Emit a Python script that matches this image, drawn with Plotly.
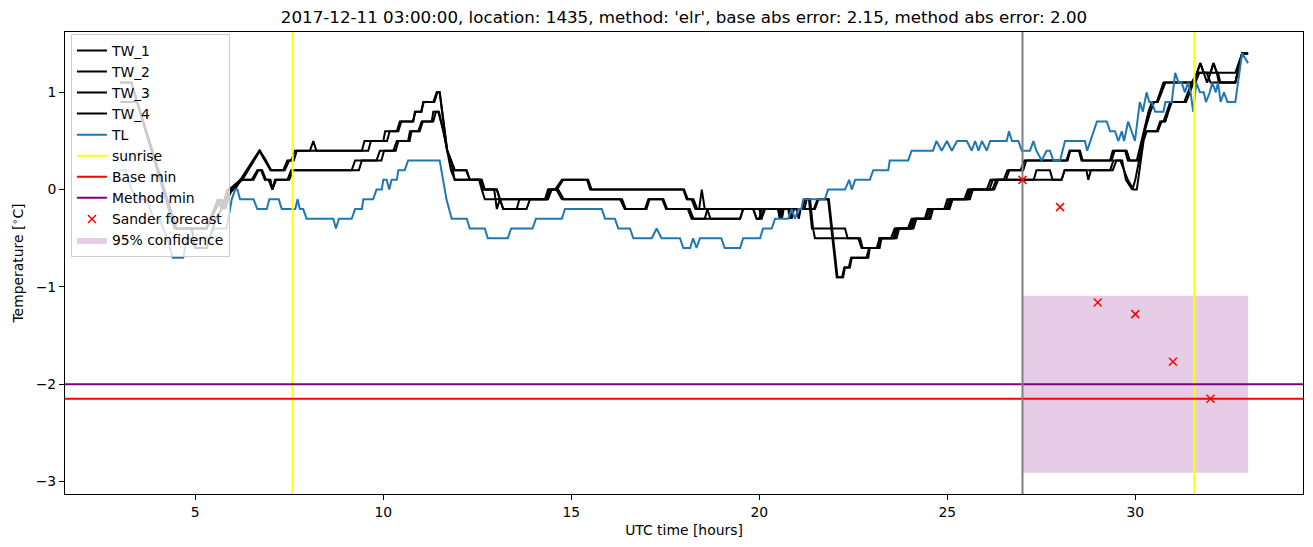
import plotly.graph_objects as go

TITLE = "2017-12-11 03:00:00, location: 1435, method: 'elr', base abs error: 2.15, method abs error: 2.00"

# (hour, temperature) readings
TW_1 = [(3.0,1.1),(3.3,1.1),(4.45,-0.4),(5.3,-0.4),(5.5,-0.2),(5.65,-0.1),(5.75,-0.2),(5.9,0.0),(6.2,0.1),(6.37,0.2),
        (6.54,0.3),(6.7,0.4),(6.85,0.3),(7.0,0.2),(7.34,0.2),(7.45,0.3),(7.55,0.3),(7.65,0.4),(8.05,0.4),(8.14,0.5),
        (8.22,0.4),(9.43,0.4),(9.5,0.5),(10.0,0.5),(10.05,0.6),(10.36,0.6),(10.44,0.7),(10.8,0.7),(10.84,0.8),(11.02,0.8),
        (11.06,0.9),(11.33,0.9),(11.42,1.0),(11.5,1.0),(11.6,0.7),(11.7,0.4),(11.8,0.3),(11.9,0.2),(12.22,0.2),(12.3,0.1),
        (12.57,0.1),(12.66,0.0),(13.02,0.0),(13.1,-0.1),(14.35,-0.1),(14.4,0.0),(14.57,0.0),(14.75,0.1),(15.45,0.1),(15.54,0.0),
        (17.98,0.0),(18.07,-0.1),(18.2,-0.1),(18.3,-0.2),(18.4,-0.2),(18.47,0.0),(18.55,-0.2),(20.0,-0.2),(20.06,-0.3),(20.12,-0.2),
        (20.55,-0.2),(20.6,-0.3),(20.65,-0.2),(21.15,-0.2),(21.21,-0.1),(21.35,-0.1),(21.43,-0.4),(21.48,-0.5),(22.68,-0.5),(22.75,-0.6),
        (23.16,-0.6),(23.2,-0.5),(23.56,-0.5),(23.64,-0.4),(24.0,-0.4),(24.09,-0.3),(24.44,-0.3),(24.53,-0.2),(24.97,-0.2),(25.06,-0.1),
        (25.5,-0.1),(25.59,0.0),(26.12,0.0),(26.21,0.1),(26.56,0.1),(26.65,0.2),(27.02,0.2),(27.1,0.3),(28.17,0.3),(28.25,0.4),
        (28.53,0.4),(28.6,0.3),(29.33,0.3),(29.4,0.4),(29.77,0.4),(29.85,0.3),(30.04,0.3),(30.22,0.6),(30.35,0.8),(30.44,0.9),
        (30.57,0.9),(30.66,1.0),(30.75,1.1),(31.51,1.1),(31.64,1.2),(31.73,1.3),(31.82,1.2),(32.0,1.2),(32.08,1.3),(32.17,1.2),
        (32.66,1.2),(32.84,1.4),(33.0,1.4)]

TW_2 = [(3.0,1.1),(3.3,1.1),(4.5,-0.4),(5.3,-0.4),(5.55,-0.2),(5.7,-0.1),(5.8,-0.2),(5.95,0.0),(6.25,0.1),(6.4,0.2),
        (6.55,0.3),(6.72,0.4),(6.88,0.3),(7.02,0.2),(7.38,0.2),(7.5,0.3),(7.62,0.3),(7.7,0.4),(9.6,0.4),(9.67,0.5),
        (10.1,0.5),(10.17,0.6),(10.4,0.6),(10.48,0.7),(10.78,0.7),(10.86,0.8),(11.0,0.8),(11.08,0.9),(11.36,0.9),(11.44,1.0),
        (11.5,1.0),(11.6,0.7),(11.7,0.4),(11.8,0.3),(11.9,0.1),(12.62,0.1),(12.7,0.0),(12.95,0.0),(13.02,-0.2),(13.1,-0.1),
        (14.3,-0.1),(14.38,0.0),(14.62,0.0),(14.78,0.1),(15.42,0.1),(15.5,0.0),(18.0,0.0),(18.1,-0.1),(18.25,-0.1),(18.35,-0.2),
        (20.5,-0.2),(20.55,-0.3),(20.62,-0.2),(20.8,-0.2),(20.86,-0.3),(20.92,-0.2),(21.2,-0.2),(21.26,-0.1),(21.32,-0.1),(21.4,-0.4),
        (21.97,-0.4),(22.28,-0.4),(22.35,-0.5),(22.63,-0.5),(22.72,-0.6),(23.12,-0.6),(23.2,-0.5),(23.5,-0.5),(23.6,-0.4),(23.95,-0.4),
        (24.05,-0.3),(24.4,-0.3),(24.48,-0.2),(24.92,-0.2),(25.0,-0.1),(25.45,-0.1),(25.55,0.0),(26.05,0.0),(26.15,0.1),(26.5,0.1),
        (26.6,0.2),(26.95,0.2),(27.05,0.3),(28.2,0.3),(28.27,0.4),(28.5,0.4),(28.57,0.3),(29.37,0.3),(29.45,0.4),(29.73,0.4),
        (29.8,0.3),(30.1,0.3),(30.25,0.6),(30.4,0.8),(30.5,0.9),(30.6,0.9),(30.7,1.0),(30.8,1.1),(31.6,1.1),(31.7,1.2),
        (31.9,1.2),(32.0,1.1),(32.66,1.1),(32.84,1.4),(33.0,1.4)]

TW_3 = [(3.0,0.9),(3.45,0.9),(4.5,-0.4),(4.9,-0.4),(5.0,-0.6),(5.3,-0.6),(5.55,-0.3),(5.7,-0.2),(5.8,-0.1),(6.0,0.0),
        (6.2,0.1),(6.5,0.1),(6.65,0.2),(6.75,0.2),(6.85,0.1),(6.95,0.1),(7.05,0.0),(7.15,0.1),(7.45,0.1),(7.55,0.2),
        (9.16,0.2),(9.25,0.3),(9.82,0.3),(9.91,0.4),(10.27,0.4),(10.36,0.5),(10.66,0.5),(10.71,0.6),(10.93,0.6),(11.02,0.7),
        (11.29,0.7),(11.33,0.8),(11.46,0.8),(11.6,0.6),(11.7,0.4),(11.8,0.2),(11.9,0.1),(12.55,0.1),(12.62,0.0),(12.7,-0.1),
        (13.1,-0.1),(13.19,-0.2),(13.55,-0.2),(13.62,-0.1),(14.35,-0.1),(14.45,0.0),(14.65,0.0),(14.8,-0.1),(16.3,-0.1),(16.42,-0.2),
        (16.96,-0.2),(17.05,-0.1),(17.45,-0.1),(17.55,-0.2),(18.1,-0.2),(18.2,-0.3),(19.49,-0.3),(19.57,-0.2),(19.84,-0.2),(19.93,-0.3),
        (20.06,-0.3),(20.15,-0.2),(20.77,-0.2),(20.82,-0.3),(20.9,-0.2),(21.48,-0.2),(21.57,-0.1),(21.83,-0.1),(22.06,-0.9),(22.23,-0.9),
        (22.28,-0.8),(22.41,-0.8),(22.46,-0.7),(22.9,-0.7),(22.94,-0.6),(23.16,-0.6),(23.2,-0.5),(23.6,-0.5),(23.68,-0.4),(24.05,-0.4),
        (24.13,-0.3),(24.5,-0.3),(24.58,-0.2),(25.02,-0.2),(25.1,-0.1),(25.55,-0.1),(25.63,0.0),(26.2,0.0),(26.3,0.1),(27.3,0.1),
        (27.37,0.2),(27.73,0.2),(27.8,0.1),(28.04,0.1),(28.12,0.2),(28.7,0.2),(28.75,0.1),(28.82,0.2),(29.33,0.2),(29.42,0.3),
        (29.6,0.3),(29.7,0.2),(29.8,0.1),(29.95,0.0),(30.04,0.0),(30.22,0.5),(30.3,0.6),(30.57,0.6),(30.66,0.7),(30.75,0.7),
        (30.84,0.8),(30.93,0.9),(31.3,0.9),(31.4,1.0),(31.5,1.1),(31.64,1.2),(31.73,1.3),(31.82,1.2),(31.91,1.1),(32.0,1.2),
        (32.08,1.3),(32.17,1.2),(32.22,1.1),(32.66,1.1),(32.84,1.4),(33.0,1.4)]

TW_4 = [(3.0,0.9),(3.45,0.9),(4.45,-0.4),(5.3,-0.4),(5.5,-0.2),(5.6,-0.1),(5.7,-0.2),(5.85,0.0),(6.05,0.0),(6.22,0.1),
        (6.55,0.1),(6.68,0.2),(6.78,0.2),(6.88,0.1),(7.0,0.1),(7.05,0.0),(7.12,0.1),(7.5,0.1),(7.6,0.2),(9.35,0.2),
        (9.43,0.3),(9.95,0.3),(10.02,0.4),(10.33,0.4),(10.4,0.5),(10.7,0.5),(10.75,0.6),(10.97,0.6),(11.05,0.7),(11.33,0.7),
        (11.4,0.8),(11.48,0.8),(11.6,0.6),(11.7,0.4),(11.8,0.3),(11.9,0.2),(12.2,0.2),(12.3,0.1),(12.6,0.1),(12.68,0.0),
        (13.02,0.0),(13.1,-0.1),(13.19,-0.2),(13.81,-0.2),(13.9,-0.1),(14.38,-0.1),(14.48,0.0),(14.6,0.0),(14.75,-0.1),(16.35,-0.1),
        (16.45,-0.2),(17.0,-0.2),(17.08,-0.1),(17.42,-0.1),(17.52,-0.2),(18.15,-0.2),(18.25,-0.3),(18.55,-0.3),(18.62,-0.2),(18.7,-0.3),
        (19.49,-0.3),(19.57,-0.2),(19.84,-0.2),(19.93,-0.3),(20.0,-0.3),(20.06,-0.2),(20.5,-0.2),(20.55,-0.3),(20.62,-0.2),(20.99,-0.2),
        (21.05,-0.3),(21.1,-0.2),(21.45,-0.2),(21.55,-0.1),(21.85,-0.1),(22.08,-0.9),(22.2,-0.9),(22.26,-0.8),(22.38,-0.8),(22.44,-0.7),
        (22.85,-0.7),(22.92,-0.6),(23.2,-0.6),(23.25,-0.5),(23.65,-0.5),(23.72,-0.4),(24.1,-0.4),(24.18,-0.3),(24.55,-0.3),(24.62,-0.2),
        (25.06,-0.2),(25.14,-0.1),(25.6,-0.1),(25.68,0.0),(26.25,0.0),(26.35,0.1),(28.04,0.1),(28.12,0.2),(29.4,0.2),(29.5,0.3),
        (29.65,0.3),(29.75,0.1),(29.92,0.0),(30.0,0.1),(30.2,0.5),(30.3,0.6),(30.6,0.6),(30.7,0.7),(30.8,0.7),(30.88,0.8),
        (30.97,0.9),(31.35,0.9),(31.45,1.0),(31.55,1.1),(31.65,1.2),(32.2,1.2),(32.26,1.1),(32.66,1.1),(32.84,1.4),(33.0,1.4)]

TL = [(3.0,0.2),(3.15,0.2),(3.3,0.0),(3.5,-0.1),(3.7,-0.1),(3.9,-0.3),(4.05,-0.3),(4.25,-0.5),(4.4,-0.7),(4.68,-0.7),
      (4.77,-0.5),(5.39,-0.5),(5.5,-0.4),(5.83,-0.4),(5.97,-0.1),(6.06,0.0),(6.12,0.0),(6.19,-0.1),(6.55,-0.1),(6.65,-0.2),
      (6.9,-0.2),(6.97,-0.1),(7.22,-0.1),(7.3,-0.2),(7.66,-0.2),(7.72,-0.1),(7.78,-0.2),(7.87,-0.2),(7.96,-0.3),(8.67,-0.3),
      (8.74,-0.4),(8.82,-0.3),(9.16,-0.3),(9.25,-0.2),(9.43,-0.2),(9.47,-0.1),(9.73,-0.1),(9.82,0.0),(9.96,0.0),(10.0,0.1),
      (10.09,0.1),(10.16,0.0),(10.22,0.1),(10.36,0.1),(10.4,0.2),(10.57,0.2),(10.66,0.3),(11.5,0.3),(11.68,-0.1),(11.82,-0.3),
      (12.22,-0.3),(12.3,-0.4),(12.7,-0.4),(12.78,-0.5),(13.31,-0.5),(13.4,-0.4),(13.97,-0.4),(14.06,-0.3),(14.75,-0.3),(14.83,-0.2),
      (15.81,-0.2),(15.9,-0.3),(16.16,-0.3),(16.25,-0.4),(16.56,-0.4),(16.65,-0.5),(17.14,-0.5),(17.27,-0.4),(17.4,-0.5),(17.89,-0.5),
      (17.98,-0.6),(18.16,-0.6),(18.24,-0.5),(18.33,-0.6),(18.42,-0.5),(18.99,-0.5),(19.08,-0.6),(19.49,-0.6),(19.57,-0.5),(20.02,-0.5),
      (20.1,-0.4),(20.33,-0.4),(20.42,-0.3),(20.77,-0.3),(20.86,-0.2),(20.95,-0.3),(21.04,-0.2),(21.12,-0.2),(21.17,-0.1),(21.74,-0.1),
      (21.83,0.0),(22.28,0.0),(22.39,0.1),(22.46,0.0),(22.55,0.1),(22.94,0.1),(23.03,0.2),(23.43,0.2),(23.47,0.3),(23.96,0.3),
      (24.05,0.4),(24.62,0.4),(24.71,0.5),(24.85,0.4),(24.99,0.5),(25.12,0.4),(25.26,0.5),(25.52,0.5),(25.65,0.4),(25.74,0.5),
      (25.83,0.4),(25.92,0.5),(26.05,0.4),(26.14,0.5),(26.58,0.5),(26.64,0.6),(26.72,0.5),(26.89,0.5),(26.98,0.4),(27.2,0.4),
      (27.29,0.5),(27.37,0.4),(27.51,0.3),(27.64,0.4),(27.73,0.4),(27.82,0.3),(28.0,0.3),(28.06,0.4),(28.13,0.5),(28.66,0.5),
      (28.72,0.4),(28.98,0.7),(29.24,0.7),(29.33,0.6),(29.46,0.6),(29.55,0.5),(29.64,0.6),(29.7,0.5),(29.81,0.7),(29.99,0.5),
      (30.12,0.9),(30.2,0.8),(30.3,1.0),(30.37,0.9),(30.44,0.9),(30.53,0.8),(30.75,0.8),(30.8,0.9),(30.97,0.9),(31.06,1.2),
      (31.15,1.1),(31.23,1.1),(31.32,1.0),(31.4,1.1),(31.47,1.0),(31.54,0.8),(31.62,1.1),(31.72,1.0),(31.82,1.0),(31.88,0.9),
      (31.98,1.0),(32.05,1.1),(32.14,1.0),(32.2,1.1),(32.27,0.9),(32.36,1.0),(32.45,0.9),(32.66,0.9),(32.84,1.4),(33.0,1.3)]

SUNRISE_HOURS = [7.59, 31.57]
FORECAST_START = 27.0
BASE_MIN = -2.15
METHOD_MIN = -2.0
SANDER_HOURS = [27, 28, 29, 30, 31, 32]
SANDER_TEMPS = [0.10, -0.18, -1.16, -1.28, -1.77, -2.15]
CONF_HOURS = [27.0, 33.0]
CONF_TEMPS = [-2.91, -1.09]

X_RANGE = [1.535, 34.46]
Y_RANGE = [-3.129, 1.62]

FONT = "DejaVu Sans"

fig = go.Figure()

# 95% confidence band (drawn first, listed last)
fig.add_trace(go.Scatter(
    x=[CONF_HOURS[0], CONF_HOURS[1], CONF_HOURS[1], CONF_HOURS[0], CONF_HOURS[0]],
    y=[CONF_TEMPS[0], CONF_TEMPS[0], CONF_TEMPS[1], CONF_TEMPS[1], CONF_TEMPS[0]],
    mode="lines", fill="toself", fillcolor="rgba(128,0,128,0.2)",
    line=dict(width=0, color="rgba(128,0,128,0.2)"),
    name="95% confidence", legendrank=10, hoverinfo="skip"))

for rank, (name, series) in enumerate([("TW_1", TW_1), ("TW_2", TW_2), ("TW_3", TW_3), ("TW_4", TW_4)], start=1):
    fig.add_trace(go.Scatter(
        x=[p[0] for p in series], y=[p[1] for p in series],
        mode="lines", line=dict(color="black", width=2), name=name, legendrank=rank))

fig.add_trace(go.Scatter(
    x=[p[0] for p in TL], y=[p[1] for p in TL],
    mode="lines", line=dict(color="#1f77b4", width=2), name="TL", legendrank=5))

sx, sy = [], []
for h in SUNRISE_HOURS:
    sx += [h, h, None]
    sy += [Y_RANGE[0], Y_RANGE[1], None]
fig.add_trace(go.Scatter(x=sx, y=sy, mode="lines", line=dict(color="yellow", width=2),
                         name="sunrise", legendrank=6))

fig.add_trace(go.Scatter(x=X_RANGE, y=[BASE_MIN, BASE_MIN], mode="lines",
                         line=dict(color="red", width=2), name="Base min", legendrank=7))
fig.add_trace(go.Scatter(x=X_RANGE, y=[METHOD_MIN, METHOD_MIN], mode="lines",
                         line=dict(color="purple", width=2), name="Method min", legendrank=8))

fig.add_trace(go.Scatter(x=[FORECAST_START, FORECAST_START], y=Y_RANGE, mode="lines",
                         line=dict(color="gray", width=2), showlegend=False))

fig.add_trace(go.Scatter(
    x=SANDER_HOURS, y=SANDER_TEMPS, mode="markers", name="Sander forecast", legendrank=9,
    marker=dict(symbol="x-thin", size=8, color="red", line=dict(color="red", width=1.5))))

axis_common = dict(showline=True, linecolor="black", linewidth=1, mirror=True,
                   ticks="outside", ticklen=5, tickwidth=1, tickcolor="black",
                   showgrid=False, zeroline=False,
                   tickfont=dict(family=FONT, size=13.9, color="black"))

fig.update_layout(
    width=1313, height=547,
    margin=dict(l=65, r=10, t=32, b=53),
    plot_bgcolor="white", paper_bgcolor="white",
    font=dict(family=FONT, size=13.9, color="black"),
    title=dict(text=TITLE, x=0.5, xref="paper", xanchor="center",
               y=1 - 17 / 547, yref="container", yanchor="middle",
               font=dict(family=FONT, size=16.7, color="black")),
    xaxis=dict(range=X_RANGE, tickmode="linear", tick0=5, dtick=5,
               title=dict(text="UTC time [hours]", font=dict(family=FONT, size=13.9), standoff=6),
               **axis_common),
    yaxis=dict(range=Y_RANGE, tickmode="linear", tick0=-3, dtick=1,
               title=dict(text="Temperature [<sup>∘</sup>C]", font=dict(family=FONT, size=13.9), standoff=8),
               **axis_common),
    legend=dict(x=0.0048, y=0.996, xanchor="left", yanchor="top",
                bgcolor="rgba(255,255,255,0.8)", bordercolor="#cccccc", borderwidth=1,
                font=dict(family=FONT, size=13.9, color="black"),
                traceorder="normal"),
    showlegend=True,
)

fig.write_html("out.html")
